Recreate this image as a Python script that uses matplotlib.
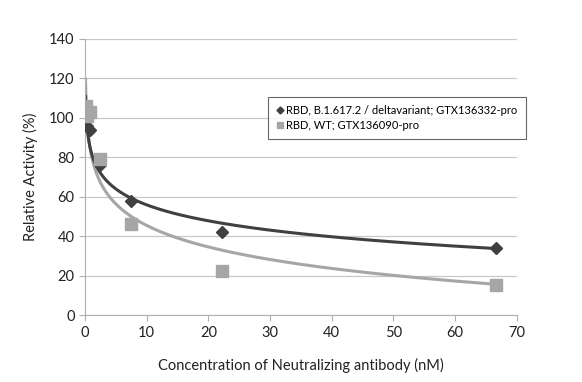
import numpy as np
import matplotlib
matplotlib.use("Agg")
import matplotlib.pyplot as plt

plt.rcParams["font.family"] = ["Lato", "DejaVu Sans"]

# serial 3-fold dilutions (nM)
conc = [0.09, 0.27, 0.82, 2.47, 7.41, 22.2, 66.7]
delta_activity = [106, 96, 94, 76, 58, 42, 34]
wt_activity = [106, 101, 103, 79, 46, 22.5, 15.5]

delta_label = "RBD, B.1.617.2 / deltavariant; GTX136332-pro"
wt_label = "RBD, WT; GTX136090-pro"

DARK = "#404040"
LIGHT = "#a6a6a6"


def log_trend(x, y):
    # Excel style logarithmic trendline y = a + b*ln(x)
    b, a = np.polyfit(np.log(x), y, 1)
    xs = np.geomspace(min(x), max(x), 300)
    return xs, a + b * np.log(xs)


fig = plt.figure(figsize=(5.82, 3.82), dpi=100)
ax = fig.add_axes([0.146, 0.175, 0.742, 0.723])

xs, ys = log_trend(conc, wt_activity)
ax.plot(xs, ys, color=LIGHT, linewidth=2.2, zorder=2)
xs, ys = log_trend(conc, delta_activity)
ax.plot(xs, ys, color=DARK, linewidth=2.2, zorder=2)

ax.plot(conc, delta_activity, linestyle="none", marker="D", markersize=6.5,
        color=DARK, label=delta_label, zorder=3)
ax.plot(conc, wt_activity, linestyle="none", marker="s", markersize=8.5,
        color=LIGHT, label=wt_label, zorder=4)

ax.set_xlim(0, 70)
ax.set_ylim(0, 140)
ax.set_xticks(range(0, 71, 10))
ax.set_yticks(range(0, 141, 20))
ax.grid(axis="y", color="#c8c8c8", linewidth=0.9)
ax.set_axisbelow(True)
for s in ["top", "right"]:
    ax.spines[s].set_visible(False)
for s in ["left", "bottom"]:
    ax.spines[s].set_color("#b0b0b0")
ax.tick_params(colors="#b0b0b0", labelcolor="#222222", labelsize=10.5, length=4)

ax.set_xlabel("Concentration of Neutralizing antibody (nM)", fontsize=10.5,
              color="#222222", labelpad=13)
ax.set_ylabel("Relative Activity (%)", fontsize=10.5, color="#222222", labelpad=8)

leg = ax.legend(loc="upper left", bbox_to_anchor=(0.424, 0.79), fontsize=8,
                frameon=True, fancybox=False, handlelength=0.6, handletextpad=0.3,
                borderpad=0.75, labelspacing=0.3, markerscale=0.55,
                borderaxespad=0)
leg.get_frame().set_edgecolor("#404040")
leg.get_frame().set_linewidth(0.8)

fig.savefig("out.png", dpi=100)
